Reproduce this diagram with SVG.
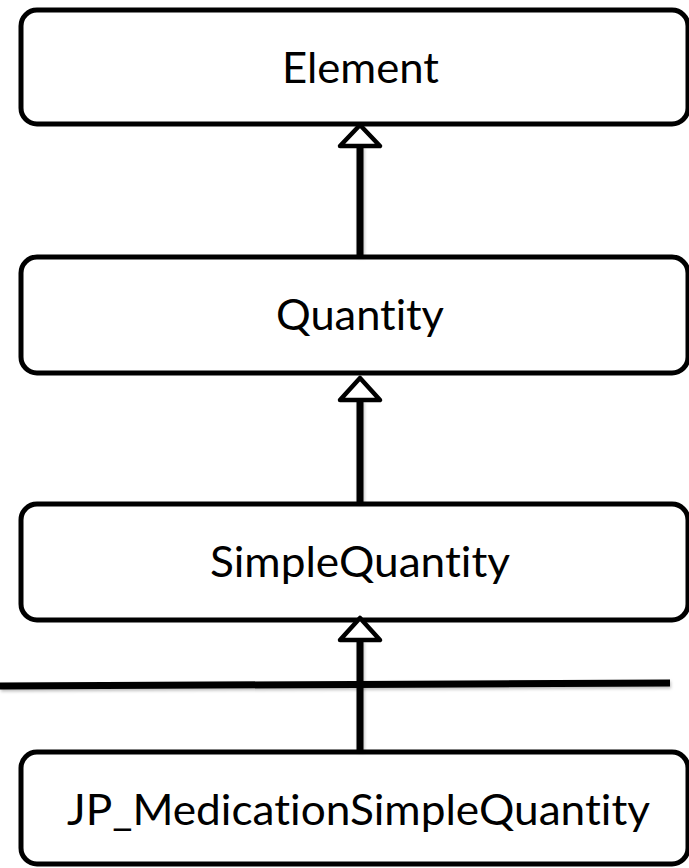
<svg xmlns="http://www.w3.org/2000/svg" width="689" height="868" viewBox="0 0 689 868">
  <style>
    .box { fill: #ffffff; stroke: #000000; stroke-width: 5; }
    .label { font-family: Lato, "Open Sans", "Liberation Sans", sans-serif; font-size: 42px; fill: #000000; text-anchor: middle; font-variant-ligatures: none; font-feature-settings: "liga" 0; }
    .conn { stroke: #000000; stroke-width: 7; fill: none; }
    .head { fill: #ffffff; stroke: #000000; stroke-width: 4.5; stroke-linejoin: round; }
    .bar { stroke: #000000; stroke-width: 7; fill: none; }
  </style>
  <defs>
    <filter id="shadow" filterUnits="userSpaceOnUse" x="0" y="0" width="689" height="868">
      <feDropShadow dx="1" dy="2" stdDeviation="1.5" flood-color="#000000" flood-opacity="0.25"/>
    </filter>
  </defs>
  <rect x="0" y="0" width="689" height="868" fill="#ffffff"/>

  <g id="node-element">
    <rect class="box" x="21" y="10" width="667" height="114" rx="16" ry="16"/>
    <text class="label" x="360.5" y="83" textLength="157" lengthAdjust="spacingAndGlyphs">Element</text>
  </g>

  <g id="node-quantity">
    <rect class="box" x="21" y="257" width="667" height="116" rx="16" ry="16"/>
    <text class="label" x="360" y="330" textLength="168" lengthAdjust="spacingAndGlyphs">Quantity</text>
  </g>

  <g id="node-simplequantity">
    <rect class="box" x="21" y="504" width="667" height="116" rx="16" ry="16"/>
    <text class="label" x="360" y="577" textLength="300" lengthAdjust="spacingAndGlyphs">SimpleQuantity</text>
  </g>

  <g id="node-jp-medicationsimplequantity">
    <rect class="box" x="21" y="752" width="667" height="112" rx="16" ry="16"/>
    <text class="label" x="358.5" y="825" textLength="583" lengthAdjust="spacingAndGlyphs">JP_MedicationSimpleQuantity</text>
  </g>

  <g id="separator">
    <line class="bar" x1="0" y1="686" x2="670" y2="683" filter="url(#shadow)"/>
  </g>

  <g id="connectors">
    <line class="conn" x1="360" y1="146" x2="360" y2="256" filter="url(#shadow)"/>
    <path class="head" d="M360,125 L380,146 L340,146 Z"/>
    <line class="conn" x1="360" y1="400" x2="360" y2="503" filter="url(#shadow)"/>
    <path class="head" d="M360,378 L380,400 L340,400 Z"/>
    <line class="conn" x1="360" y1="640" x2="360" y2="751" filter="url(#shadow)"/>
    <path class="head" d="M360,618 L380,640 L340,640 Z"/>
  </g>
</svg>
